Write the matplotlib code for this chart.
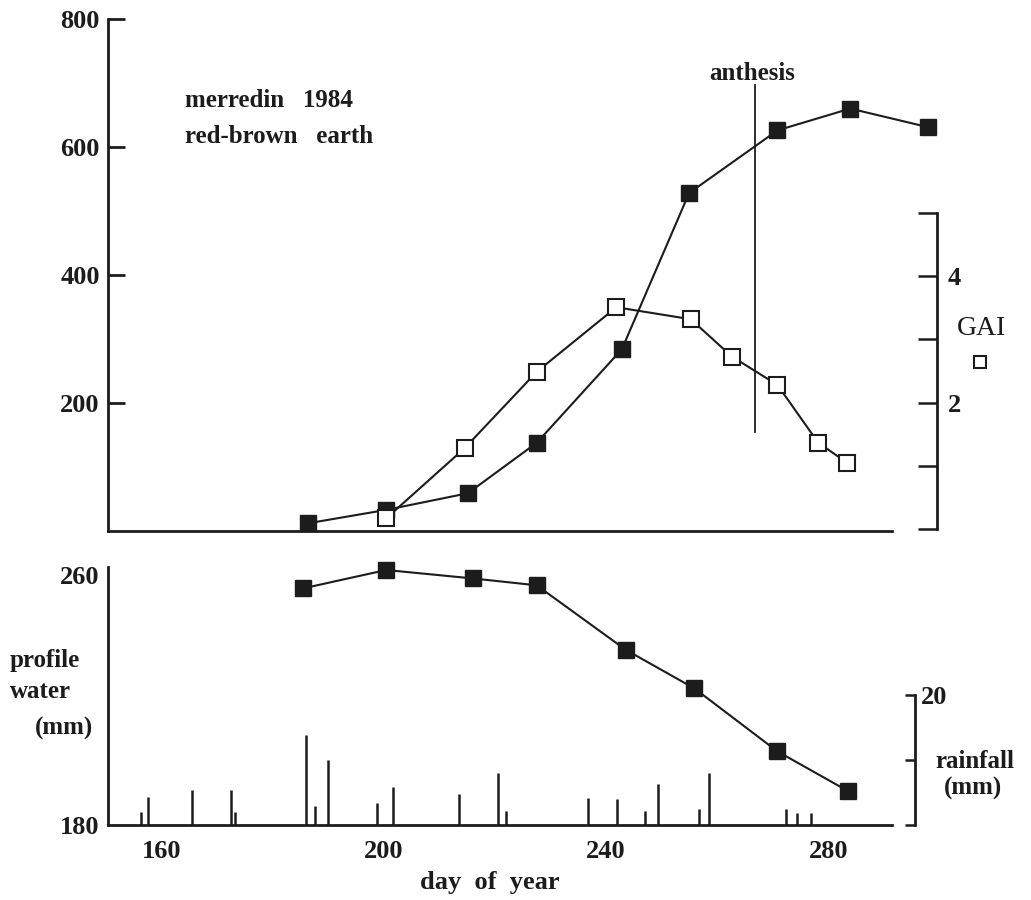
import matplotlib
matplotlib.use("Agg")
import matplotlib.pyplot as plt
from matplotlib.lines import Line2D

# crop measurements, merredin 1984
dm_day = [186.3, 200.4, 215.1, 227.5, 242.8, 254.9, 270.8, 283.9, 297.9]
dry_matter = [12, 33, 59, 138, 284, 528, 626, 660, 631]

gai_day = [200.4, 214.5, 227.5, 241.8, 255.2, 262.6, 270.8, 278.1, 283.3]
gai = [0.17, 1.28, 2.49, 3.51, 3.32, 2.73, 2.28, 1.37, 1.05]

water_day = [185.4, 200.4, 216.0, 227.5, 243.5, 255.9, 270.8, 283.6]
profile_water = [255.7, 261.6, 258.9, 256.7, 236.1, 223.7, 203.6, 190.8]

rain_day = [156.2, 157.5, 165.4, 172.4, 173.2, 185.9, 187.6, 190.0, 198.7, 201.6,
            213.6, 220.5, 221.9, 236.7, 242.0, 247.0, 249.4, 256.8, 258.6,
            272.3, 274.4, 276.8]
rain_mm = [2.0, 4.3, 5.4, 5.4, 2.0, 13.8, 2.9, 10.0, 3.4, 5.8,
           4.8, 8.0, 2.2, 4.2, 4.0, 2.2, 6.3, 2.5, 8.0,
           2.5, 1.8, 1.8]

anthesis_day = 266.7

day_ticks = [160, 200, 240, 280]
dm_ticks = [200, 400, 600, 800]
gai_ticks = [0, 1, 2, 3, 4, 5]
gai_labels = ['', '', '2', '', '4', '']
water_ticks = [180, 260]
rain_ticks = [0, 10, 20]
rain_labels = ['', '', '20']

ink = '#1c1c1c'
plt.rcParams['font.family'] = ['Liberation Serif', 'DejaVu Serif']
plt.rcParams['font.weight'] = 'bold'
plt.rcParams['text.color'] = ink
plt.rcParams['xtick.color'] = ink
plt.rcParams['ytick.color'] = ink

W, H = 1031, 900
fig = plt.figure(figsize=(W / 100, H / 100), dpi=100)


def px(x, y):
    return x / W, 1 - y / H


def bare(a, keep):
    for side, sp in a.spines.items():
        sp.set_visible(side in keep)
        sp.set_linewidth(2)
        sp.set_color(ink)


# ---- top panel: dry matter and GAI
ax = fig.add_axes([0.1048, 0.41, 0.804, 0.5689])
ax.set_xlim(150.34, 299.5)
ax.set_ylim(0, 800)
bare(ax, ('left', 'bottom'))
ax.spines['bottom'].set_bounds(150.34, 291.4)
ax.set_xticks([])
ax.set_yticks(dm_ticks)
ax.tick_params(axis='y', direction='in', length=12, width=2, pad=6, labelsize=19)
ax.plot(dm_day, dry_matter, '-s', color=ink, mfc=ink, mec=ink, ms=11, lw=1.5,
        clip_on=False)

ax.plot([anthesis_day, anthesis_day], [154, 697], color=ink, lw=1.3)
ax.text(anthesis_day - 0.5, 705, 'anthesis', ha='center', va='baseline', fontsize=18)

gx = ax.twinx()
gx.set_ylim(-0.03, 8.07)
bare(gx, ('right',))
gx.spines['right'].set_bounds(0, 5)
gx.set_yticks(gai_ticks)
gx.set_yticklabels(gai_labels)
gx.tick_params(axis='y', direction='in', length=14, width=1.8, pad=8, labelsize=19)
gx.plot(gai_day, gai, '-s', color=ink, mfc='white', mec=ink, ms=11, mew=1.5, lw=1.5,
        clip_on=False)

fig.text(*px(185, 107), 'merredin   1984', fontsize=18, va='baseline')
fig.text(*px(185, 143), 'red-brown   earth', fontsize=18, va='baseline')
fig.text(*px(982, 335), 'GAI', fontsize=20, fontweight='normal', ha='center',
         va='baseline')
fig.add_artist(Line2D([980 / W], [1 - 362 / H], transform=fig.transFigure,
                      marker='s', ms=9, mfc='white', mec=ink, mew=1.5, ls='none'))

# ---- bottom panel: profile water and rainfall
bx = fig.add_axes([0.1048, 0.0833, 0.7827, 0.2867])
bx.set_xlim(150.34, 295.6)
bx.set_ylim(180, 262.56)
bare(bx, ('left', 'bottom'))
bx.spines['bottom'].set_bounds(150.34, 291.4)
bx.set_xticks(day_ticks)
bx.set_yticks(water_ticks)
bx.tick_params(axis='both', length=0, labelsize=19)
bx.tick_params(axis='x', pad=11)
bx.tick_params(axis='y', pad=6)
bx.plot(water_day, profile_water, '-s', color=ink, mfc=ink, mec=ink, ms=11, lw=1.5,
        clip_on=False)

rx = bx.twinx()
rx.set_ylim(0, 39.7)
bare(rx, ('right',))
rx.spines['right'].set_bounds(0, 20)
rx.set_yticks(rain_ticks)
rx.set_yticklabels(rain_labels)
rx.tick_params(axis='y', direction='in', length=7, width=1.8, pad=4, labelsize=19)
rx.vlines(rain_day, 0, rain_mm, color=ink, lw=1.8)

fig.text(*px(10, 660), 'profile', fontsize=18, va='center')
fig.text(*px(10, 692), 'water', fontsize=18, va='center')
fig.text(*px(64, 728), '(mm)', fontsize=18, ha='center', va='center')
fig.text(*px(975, 762), 'rainfall', fontsize=18, ha='center', va='center')
fig.text(*px(973, 788), '(mm)', fontsize=18, ha='center', va='center')
fig.text(*px(490, 882), 'day  of  year', fontsize=19, ha='center', va='center')

fig.savefig('out.png', dpi=100, facecolor='white')
